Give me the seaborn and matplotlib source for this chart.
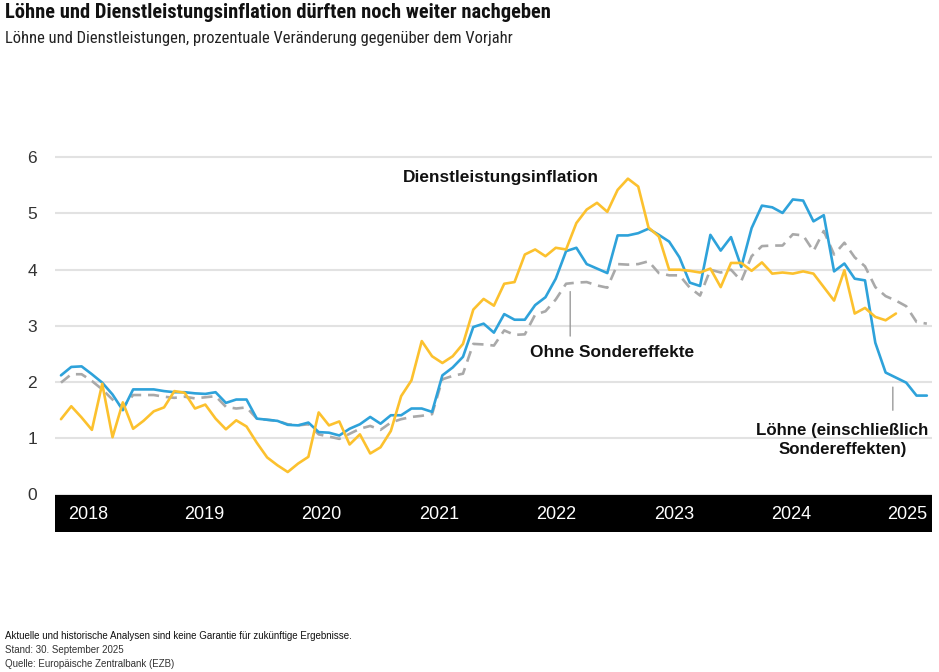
import matplotlib
matplotlib.use("Agg")
import matplotlib.pyplot as plt
from matplotlib import font_manager as fm
import seaborn as sns
import pandas as pd
import numpy as np

# ---------------- data ----------------
years = ["2018", "2019", "2020", "2021", "2022", "2023", "2024", "2025"]

wages_incl = [2.12, 2.27, 2.28, 2.14, 1.99, 1.78, 1.50, 1.87, 1.87, 1.87, 1.84, 1.82, 1.82, 1.80, 1.79,
              1.82, 1.63, 1.69, 1.69, 1.35, 1.33, 1.31, 1.24, 1.23, 1.28, 1.11, 1.10, 1.05, 1.17, 1.25,
              1.38, 1.26, 1.41, 1.41, 1.53, 1.53, 1.47, 2.12, 2.26, 2.45, 2.98, 3.04, 2.88, 3.21,
              3.11, 3.11, 3.37, 3.51, 3.84, 4.33, 4.39, 4.10, 4.02, 3.94, 4.61, 4.61, 4.65, 4.73, 4.62,
              4.50, 4.22, 3.77, 3.71, 4.62, 4.34, 4.58, 4.05, 4.74, 5.14, 5.11, 5.01, 5.25,
              5.23, 4.86, 4.97, 3.97, 4.11, 3.84, 3.81, 2.70, 2.17, 2.08, 1.99, 1.76, 1.76]

wages_excl = [1.99, 2.14, 2.14, 2.02, 1.87, 1.69, 1.55, 1.77, 1.77, 1.77, 1.74, 1.72, 1.74, 1.71, 1.73,
              1.75, 1.56, 1.53, 1.55, 1.35, 1.33, 1.31, 1.25, 1.23, 1.25, 1.07, 1.03, 0.99, 1.08, 1.17,
              1.22, 1.15, 1.28, 1.34, 1.38, 1.40, 1.43, 2.05, 2.11, 2.15, 2.68, 2.67, 2.65, 2.92,
              2.84, 2.85, 3.20, 3.26, 3.47, 3.75, 3.77, 3.78, 3.72, 3.68, 4.10, 4.09, 4.10, 4.15, 3.94,
              3.90, 3.90, 3.68, 3.54, 4.00, 3.95, 4.00, 3.80, 4.24, 4.42, 4.43, 4.43, 4.63,
              4.61, 4.33, 4.69, 4.27, 4.48, 4.22, 4.06, 3.69, 3.53, 3.45, 3.35, 3.07, 3.04]

services = [1.34, 1.57, 1.37, 1.15, 1.97, 1.02, 1.64, 1.17, 1.31, 1.48, 1.55, 1.84, 1.81, 1.53, 1.60,
            1.35, 1.16, 1.32, 1.21, 0.92, 0.66, 0.52, 0.40, 0.55, 0.67, 1.46, 1.23, 1.30, 0.89, 1.07,
            0.73, 0.84, 1.13, 1.75, 2.03, 2.73, 2.46, 2.34, 2.46, 2.68, 3.29, 3.48, 3.36, 3.75,
            3.78, 4.27, 4.36, 4.24, 4.39, 4.36, 4.83, 5.07, 5.19, 5.03, 5.42, 5.62, 5.48, 4.75, 4.59,
            4.00, 4.00, 3.98, 3.95, 4.02, 3.69, 4.12, 4.12, 3.98, 4.13, 3.93, 3.95, 3.93,
            3.97, 3.93, 3.69, 3.45, 3.99, 3.22, 3.32, 3.16, 3.10, 3.22]

yticks = [0, 1, 2, 3, 4, 5, 6]

# ---------------- fonts ----------------
_avail = {f.name for f in fm.fontManager.ttflist}
def pick(*names):
    for n in names:
        if n in _avail:
            return n
    return "DejaVu Sans"

F_HEAD = pick("Roboto Condensed", "Lato", "Roboto")
F_CHART = pick("Liberation Sans", "Arial", "DejaVu Sans")
F_NARROW = pick("Liberation Sans Narrow", "Liberation Sans")

sns.set_theme(style="white")
plt.rcParams["font.family"] = [F_CHART, "DejaVu Sans"]

BLUE = "#2EA2DA"
YELLOW = "#FCC12E"
GRAY = "#A9A9A9"

W, H = 939, 672
fig = plt.figure(figsize=(W / 100, H / 100), dpi=100)

def rect(l, t, r, b):
    return [l / W, 1 - b / H, (r - l) / W, (b - t) / H]

ax = fig.add_axes(rect(55, 120, 932, 494.5))
xlim = (-0.58, 84.5)

df_g = pd.DataFrame({"x": np.arange(len(wages_excl)), "y": wages_excl})
df_b = pd.DataFrame({"x": np.arange(len(wages_incl)), "y": wages_incl})
df_y = pd.DataFrame({"x": np.arange(len(services)), "y": services})

sns.lineplot(data=df_g, x="x", y="y", ax=ax, color=GRAY, lw=1.9)
ax.lines[-1].set_dashes((4.2, 2.6))
sns.lineplot(data=df_b, x="x", y="y", ax=ax, color=BLUE, lw=1.9)
sns.lineplot(data=df_y, x="x", y="y", ax=ax, color=YELLOW, lw=1.9)

ax.set_xlim(*xlim)
ax.set_ylim(0, (494.5 - 120) / 56.2)
ax.set_xlabel("")
ax.set_ylabel("")
ax.set_xticks([])
ax.set_yticks(yticks)
ax.set_yticklabels([str(v) for v in yticks])
ax.tick_params(axis="y", length=0, pad=13, labelsize=12.5, labelcolor="#333333")
ax.yaxis.grid(True, color="#E2E2E2", lw=1.5)
ax.set_axisbelow(True)
for s in ax.spines.values():
    s.set_visible(False)

# annotations
ax.text(42.7, 5.64, "Dienstleistungsinflation", ha="center", va="center",
        fontsize=12.4, fontweight="bold", color="#111111")
ax.text(53.5, 2.52, "Ohne Sondereffekte", ha="center", va="center",
        fontsize=12.4, fontweight="bold", color="#111111")
ax.text(75.8, 0.97, "Löhne (einschließlich\nSondereffekten)", ha="center", va="center",
        fontsize=12.2, fontweight="bold", color="#111111", linespacing=1.35)
ax.annotate("", xy=(49.4, 3.66), xytext=(49.4, 2.77),
            arrowprops=dict(arrowstyle="-", color="#9A9A9A", lw=1.0))
ax.annotate("", xy=(80.7, 1.96), xytext=(80.7, 1.45),
            arrowprops=dict(arrowstyle="-", color="#9A9A9A", lw=1.0))

# black year band
axb = fig.add_axes(rect(55, 494.5, 932, 532))
axb.set_facecolor("black")
axb.set_xlim(*xlim)
axb.set_ylim(0, 1)
year_pos = [2.62, 13.87, 25.22, 36.67, 48.02, 59.46, 70.81, 82.06]
axb.set_xticks(year_pos)
axb.set_xticklabels(years, fontfamily=F_NARROW)
axb.set_yticks([])
axb.tick_params(axis="x", length=0, pad=-19, labelsize=13, labelcolor="white")
for s in axb.spines.values():
    s.set_visible(False)

# titles
fig.text(5 / W, 1 - 13 / H, "Löhne und Dienstleistungsinflation dürften noch weiter nachgeben",
         fontsize=14.8, fontweight="bold", va="center", ha="left", family=F_HEAD, color="#111111")
fig.text(5 / W, 1 - 38 / H, "Löhne und Dienstleistungen, prozentuale Veränderung gegenüber dem Vorjahr",
         fontsize=11.9, va="center", ha="left", family=F_HEAD, color="#222222")

# footer
fig.text(5 / W, 1 - 636 / H, "Aktuelle und historische Analysen sind keine Garantie für zukünftige Ergebnisse.",
         fontsize=7.0, va="center", ha="left", color="#111111", fontweight="medium")
fig.text(5 / W, 1 - 650 / H, "Stand: 30. September 2025", fontsize=7.0, va="center", ha="left", color="#333333")
fig.text(5 / W, 1 - 664 / H, "Quelle: Europäische Zentralbank (EZB)", fontsize=7.0, va="center", ha="left",
         color="#333333")

fig.savefig("out.png", dpi=100)
